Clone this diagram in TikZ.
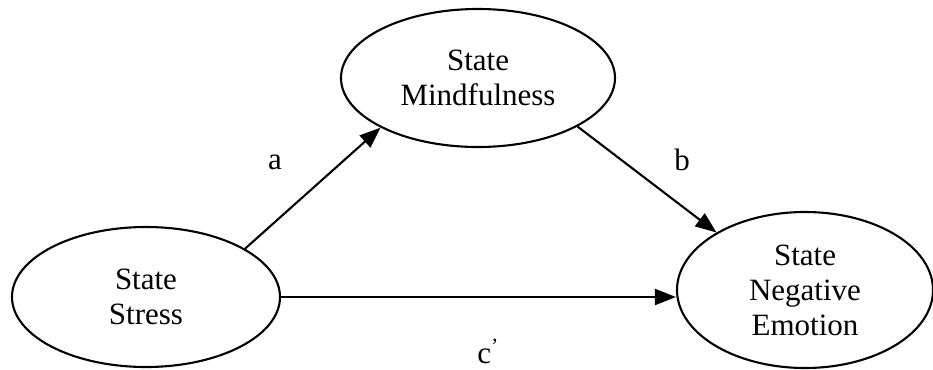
\documentclass[tikz,border=0pt]{standalone}
\usepackage{fontspec}
\setmainfont{Liberation Serif}
\usetikzlibrary{shapes.geometric,arrows.meta}
\begin{document}
\begin{tikzpicture}[x=1pt,y=-1pt,
  latent/.style={draw,line width=2.1pt,ellipse,inner sep=0pt,align=center,
    font=\fontsize{31}{35}\selectfont},
  path/.style={line width=2.1pt,-{Triangle[length=21pt,width=16pt]}},
  lbl/.style={font=\fontsize{31}{35}\selectfont}]
\useasboundingbox (0,0) rectangle (933,369);
\node[latent,minimum width=274pt,minimum height=138pt] (M) at (478,78) {State\\Mindfulness};
\node[latent,minimum width=268pt,minimum height=140pt] (S) at (146,297) {State\\Stress};
\node[latent,minimum width=256pt,minimum height=156pt] (N) at (805,290) {State\\Negative\\Emotion};
\draw[path] (S.26) -- (M.207);
\draw[path] (M.-26) -- (N.147);
\draw[path] (S.east) -- (S.east -| N.west);
\node[lbl] (la) at (275,162) {a};
\node[lbl] (lb) at (682,160) {b};
\node[lbl,anchor=base] (lc) at (488,363) {c\textsuperscript{’}};
\end{tikzpicture}
\end{document}
